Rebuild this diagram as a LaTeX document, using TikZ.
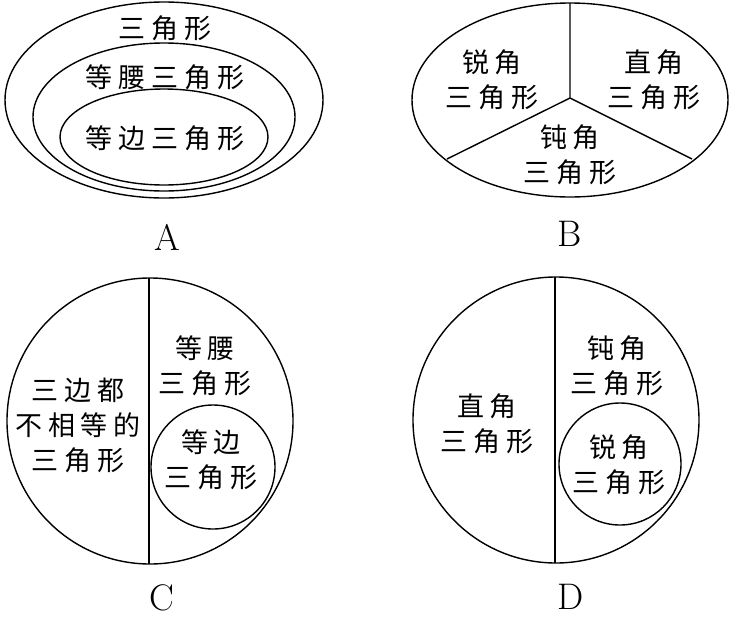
\documentclass[tikz,border=0pt]{standalone}
\usepackage{fontspec}
\newfontfamily\cjk{Noto Sans CJK SC}[LetterSpace=22]
\usetikzlibrary{positioning}
\tikzset{
  setbox/.style={line width=1.4pt},
  setlabel/.style={font=\cjk\fontsize{27}{35}\selectfont, align=center, inner sep=0pt},
  partlabel/.style={font=\fontsize{37}{40}\selectfont, inner sep=0pt}
}

\begin{document}
\begin{tikzpicture}[x=1pt, y=-1pt]
    \useasboundingbox (0,0) rectangle (732,622);
    \draw[setbox] (164,100) ellipse [x radius=159, y radius=98];
    \draw[setbox] (164,117) ellipse [x radius=131, y radius=74];
    \draw[setbox] (164,137) ellipse [x radius=104, y radius=48];
    \node[setlabel] (tri) at (165,28) {三角形};
    \node[setlabel] (iso) at (165,77) {等腰三角形};
    \node[setlabel] (equi) at (165,138) {等边三角形};
    \node[partlabel] (labA) at (167,237) {A};

    \draw[setbox] (570,100) ellipse [x radius=158, y radius=97];
    \coordinate (mid) at (570,98);
    \coordinate (top) at (570,3);
    \coordinate (lft) at (447,159);
    \coordinate (rgt) at (692,159);
    \draw[setbox] (top) -- (mid) (lft) -- (mid) -- (rgt);
    \node[setlabel] (acuteB) at (492,80) {锐角\\三角形};
    \node[setlabel] (rightB) at (654,80) {直角\\三角形};
    \node[setlabel] (obtuseB) at (570,155) {钝角\\三角形};
    \node[partlabel] (labB) at (570,234) {B};

    \draw[setbox] (150,421) circle (143);
    \draw[setbox] (149,278) -- (149,564);
    \draw[setbox] (213,467) circle (62);
    \node[setlabel] (scaC) at (78,425) {三边都\\不相等的\\三角形};
    \node[setlabel] (isoC) at (205,366) {等腰\\三角形};
    \node[setlabel] (equiC) at (211,460) {等边\\三角形};
    \node[partlabel] (labC) at (162,598) {C};

    \draw[setbox] (556,420) circle (143);
    \draw[setbox] (555,277) -- (555,563);
    \draw[setbox] (620,464) circle (61);
    \node[setlabel] (rightD) at (487,424) {直角\\三角形};
    \node[setlabel] (obtuseD) at (617,366) {钝角\\三角形};
    \node[setlabel] (acuteD) at (619,465) {锐角\\三角形};
    \node[partlabel] (labD) at (571,597) {D};
\end{tikzpicture}
\end{document}
